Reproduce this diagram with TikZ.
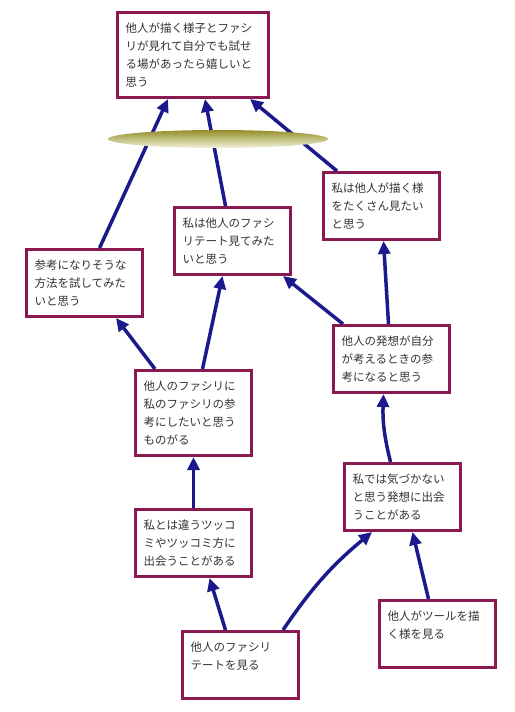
\documentclass[tikz,border=0pt]{standalone}
\usepackage{fontspec}
\setmainfont{Noto Sans CJK JP}
\usetikzlibrary{arrows.meta,shapes.geometric}
\definecolor{noteRim}{RGB}{140,24,82}
\definecolor{linkBlue}{RGB}{26,26,140}
\definecolor{lensTop}{RGB}{148,142,38}
\definecolor{lensBottom}{RGB}{242,242,222}
\newcommand{\noteText}[3]{\parbox[c][#2pt][t]{#1pt}{\raggedright\vspace*{2.5pt}#3}}

\begin{document}
\begin{tikzpicture}[x=1pt,y=-1pt,
  note/.style={draw=noteRim, line width=3pt, fill=white, inner sep=8pt, anchor=north west, text=black!80, font={\fontsize{11.5pt}{18pt}\selectfont}},
  link/.style={draw=linkBlue, line width=3.5pt, -{Triangle[length=13pt,width=12pt]}},
  lens/.style={ellipse, minimum width=220pt, minimum height=18pt, inner sep=0pt, top color=lensTop, bottom color=lensBottom}]
\useasboundingbox (0,0) rectangle (514,712);
\node[note] (b1) at (116,11) {\noteText{135}{69}{他人が描く様子とファシ\\リが見れて自分でも試せ\\る場があったら嬉しいと\\思う}};
\node[note] (b3) at (322,171) {\noteText{100}{51}{私は他人が描く様\\をたくさん見たい\\と思う}};
\node[note] (b4) at (173,206) {\noteText{100}{51}{私は他人のファシ\\リテート見てみた\\いと思う}};
\node[note] (b5) at (25,248) {\noteText{100}{51}{参考になりそうな\\方法を試してみた\\いと思う}};
\node[note] (b6) at (134,369) {\noteText{100}{69}{他人のファシリに\\私のファシリの参\\考にしたいと思う\\ものがる}};
\node[note] (b7) at (332,324) {\noteText{100}{51}{他人の発想が自分\\が考えるときの参\\考になると思う}};
\node[note] (b8) at (343,462) {\noteText{100}{51}{私では気づかない\\と思う発想に出会\\うことがある}};
\node[note] (b9) at (134,508) {\noteText{100}{51}{私とは違うツッコ\\ミやツッコミ方に\\出会うことがある}};
\node[note] (b10) at (181,630) {\noteText{100}{51}{他人のファシリ\\テートを見る}};
\node[note] (b11) at (378,599) {\noteText{100}{51}{他人がツールを描\\く様を見る}};
\draw[link] (b9.north) -- (b6.south);
\draw[link] ([xshift=-15pt]b10.north) -- ([xshift=16pt]b9.south);
\draw[link] ([xshift=-17pt]b10.north east) to[bend left=8] ([xshift=29pt]b8.south west);
\draw[link] ([xshift=-9pt]b11.north) -- ([xshift=10pt]b8.south);
\draw[link] ([xshift=-12pt]b8.north) to[bend left=8] ([xshift=-8pt]b7.south);
\draw[link] ([xshift=21pt]b6.north west) -- ([xshift=-28pt]b5.south east);
\draw[link] ([xshift=9pt]b6.north) -- ([xshift=-10pt]b4.south);
\draw[link] ([xshift=11pt]b7.north west) -- ([xshift=-9pt]b4.south east);
\draw[link] ([xshift=-3pt]b7.north) -- ([xshift=2pt]b3.south);
\draw[link] ([xshift=15pt]b5.north) -- ([xshift=-25pt]b1.south);
\draw[link] ([xshift=-7pt]b4.north) -- ([xshift=12pt]b1.south);
\draw[link] ([xshift=15pt]b3.north west) -- ([xshift=-20pt]b1.south east);
\node[lens] (lens) at (218,139) {};
\end{tikzpicture}
\end{document}
